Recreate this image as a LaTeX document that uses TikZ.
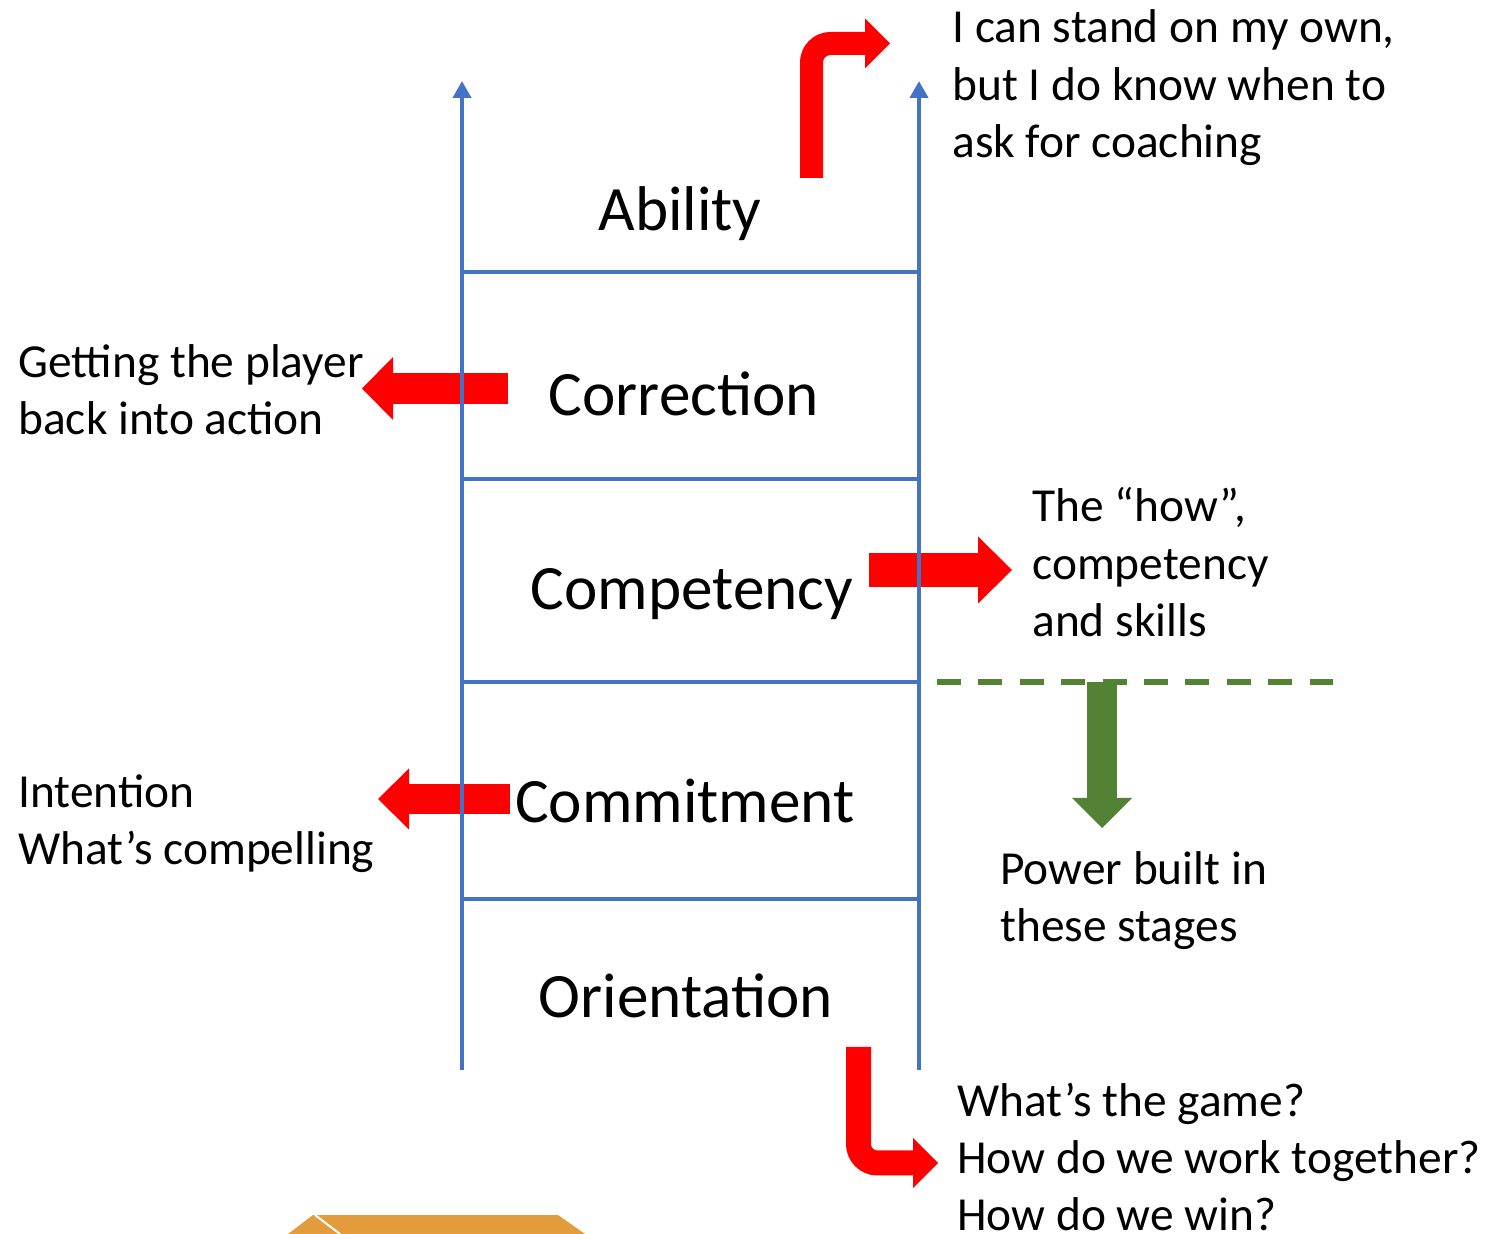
\documentclass[tikz,border=0pt]{standalone}
\usepackage{fontspec}
\setmainfont{Carlito}
\usepackage{tikz}
\usetikzlibrary{arrows.meta}

\definecolor{railblue}{RGB}{68,114,196}
\definecolor{arrowred}{RGB}{255,0,0}
\definecolor{powergreen}{RGB}{84,130,53}
\definecolor{boxorange}{RGB}{226,156,60}

\begin{document}
\begin{tikzpicture}[ x = 0.5pt, y = -0.5pt
                     , rail/.style = { draw = railblue, line width = 2pt }
                     , stage/.style = { font = \fontsize{31.6}{38}\selectfont
                                      , inner sep = 0pt
                                      , anchor = base }
                     , note/.style = { font = \fontsize{23.7}{28.75}\selectfont
                                     , align = left
                                     , inner sep = 0pt
                                     , anchor = base west }
                     , blockarrow/.style n args = {4}{ draw = #1
                                                     , line width = #2
                                                     , -{Triangle[length = #3, width = #4, line width = 0pt]} }
                     ]

  \useasboundingbox (0,0) rectangle (1490,1234);

  \node (ability) [stage] at (680,231) {Ability};
  \node (correction) [stage] at (684,416) {Correction};
  \node (competency) [stage] at (692,610) {Competency};
  \node (commitment) [stage] at (685,823) {Commitment};
  \node (orientation) [stage] at (686,1018) {Orientation};

  \node (abilitynote) [note] at (952,158)
  {I can stand on my own,\\ but I do know when to\\ ask for coaching};
  \node (correctionnote) [note] at (18,435)
  {Getting the player\\ back into action};
  \node (competencynote) [note] at (1032,637)
  {The “how”,\\ competency\\ and skills};
  \node (commitmentnote) [note] at (18,865)
  {Intention\\ What’s compelling};
  \node (powernote) [note] at (1000,942)
  {Power built in\\ these stages};
  \node (orientationnote) [note] at (957,1231)
  {What’s the game?\\ How do we work together?\\ How do we win?};

  \coordinate (abilityfoot) at (811.5,178);
  \coordinate (abilityhead) at (890,43.5);
  \coordinate (correctionfoot) at (508,388.5);
  \coordinate (correctionhead) at (362,388.5);
  \coordinate (competencyfoot) at (869,570);
  \coordinate (competencyhead) at (1012,570);
  \coordinate (commitmentfoot) at (510,799);
  \coordinate (commitmenthead) at (378,799);
  \coordinate (orientationfoot) at (858.5,1047);
  \coordinate (orientationhead) at (938,1163);

  \draw[blockarrow = {arrowred}{11.5pt}{12.5pt}{25pt}, rounded corners = 9.5pt]
  (abilityfoot) |- (abilityhead);
  \draw[blockarrow = {arrowred}{15.5pt}{15.5pt}{31.5pt}] (correctionfoot) -- (correctionhead);
  \draw[blockarrow = {arrowred}{17pt}{17pt}{33.5pt}] (competencyfoot) -- (competencyhead);
  \draw[blockarrow = {arrowred}{15pt}{15.5pt}{30.5pt}] (commitmentfoot) -- (commitmenthead);
  \draw[blockarrow = {arrowred}{12.5pt}{12.5pt}{25pt}, rounded corners = 9.5pt]
  (orientationfoot) |- (orientationhead);

  \coordinate (leftbottom) at (462,1070);
  \coordinate (lefttop) at (462,81);
  \coordinate (rightbottom) at (919,1070);
  \coordinate (righttop) at (919,81);

  \draw[rail, -{Triangle[length = 8.5pt, width = 9pt]}] (leftbottom) -- (lefttop);
  \draw[rail, -{Triangle[length = 8.5pt, width = 9pt]}] (rightbottom) -- (righttop);

  \foreach \y in {272, 479, 682, 899}
    \draw[rail] (462,\y) -- (919,\y);

  \coordinate (powerleft) at (937,682);
  \coordinate (powerright) at (1333,682);
  \coordinate (powertop) at (1102,682);
  \coordinate (powerhead) at (1102,828);

  \draw[powergreen, line width = 3pt, dash pattern = on 12pt off 8.7pt] (powerleft) -- (powerright);
  \draw[blockarrow = {powergreen}{15pt}{15pt}{30pt}] (powertop) -- (powerhead);

  \fill[boxorange] (288,1234) -- (313,1215) -- (558,1215) -- (585,1234) -- cycle;
  \draw[white, line width = 1pt] (315,1215) -- (340,1234);

\end{tikzpicture}
\end{document}
